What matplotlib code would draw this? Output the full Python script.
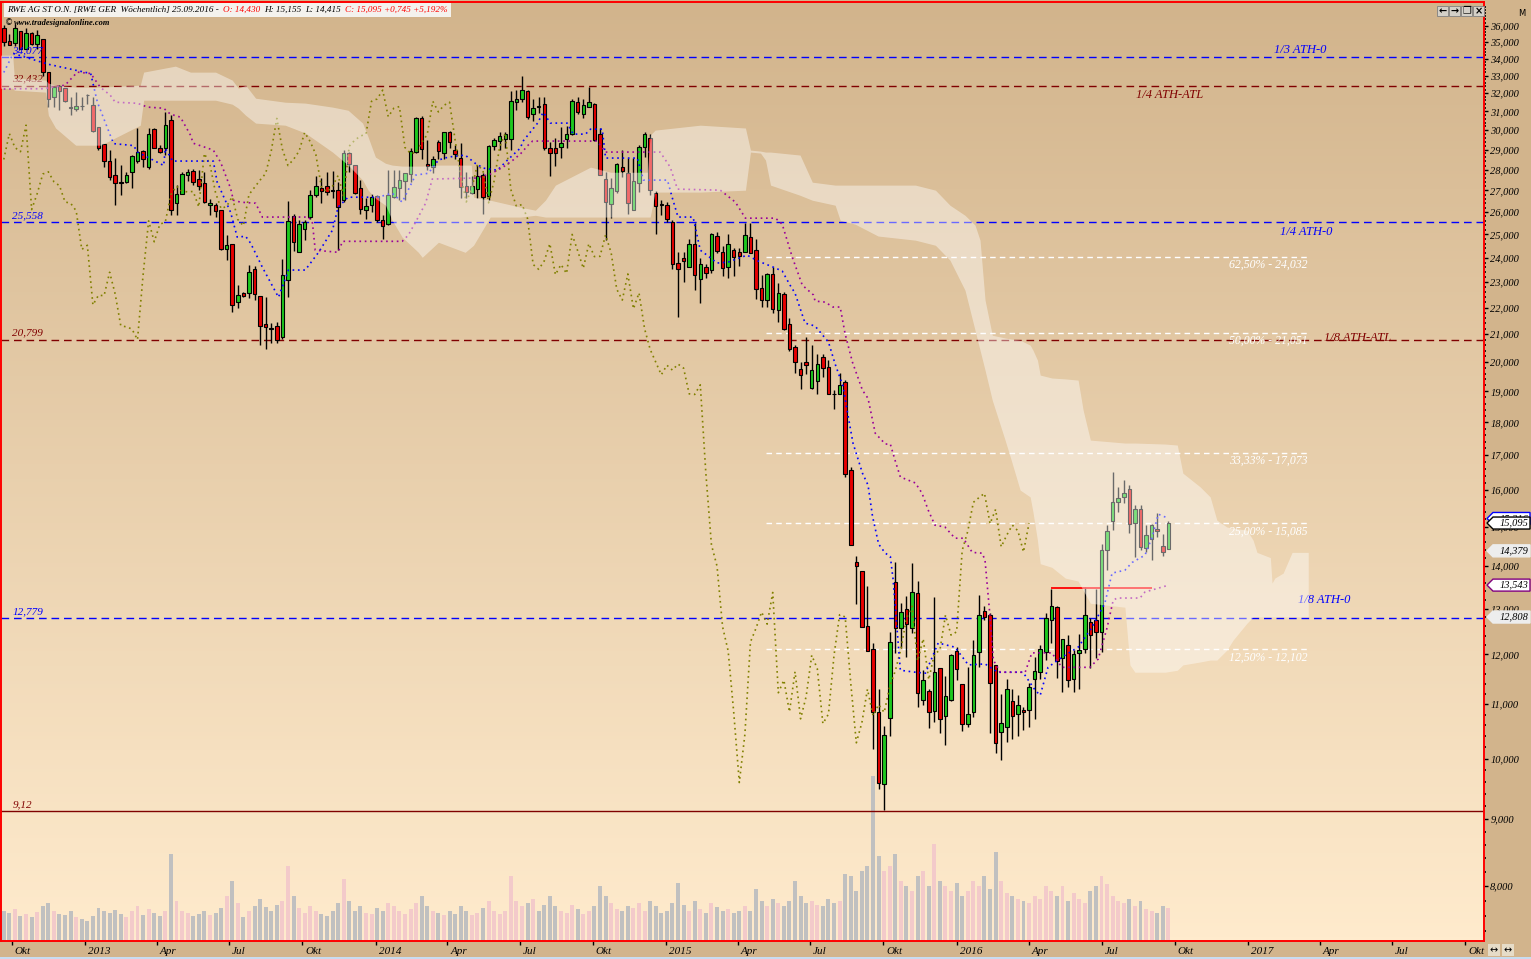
import numpy as np
import pandas as pd
import matplotlib
matplotlib.use("Agg")
import matplotlib.pyplot as plt
import matplotlib.dates as mdates
import matplotlib.ticker as mticker
import matplotlib.transforms as mtransforms
from matplotlib.colors import LinearSegmentedColormap
from matplotlib.patches import Polygon, Rectangle
from matplotlib.offsetbox import TextArea, HPacker, AnchoredOffsetbox

# ---- weekly candles, RWE AG St (Xetra), last week 25.09.2016 ----
opens = [35.88, 35.04, 34.96, 35.67, 34.6, 35.53, 34.9, 35.17, 33.18, 31.8,
         32.4, 32.3, 31.25, 31.15, 31.3, 31.9, 31.37, 30.14, 29.26, 28.44,
         27.73, 27.4, 27.41, 27.9, 28.44, 28.92, 28.13, 30.05, 29.1, 29.1,
         30.51, 26.41, 26.85, 27.73, 27.92, 27.52, 27.33, 26.3, 26.31, 26.11,
         24.35, 24.6, 22.2, 22.55, 22.55, 23.52, 22.45, 21.37, 21.23, 21.31,
         20.9, 23.1, 25.82, 24.25, 25.22, 25.78, 26.76, 27.1, 27.2, 27.0,
         27.01, 26.54, 28.83, 28.22, 27.09, 26.08, 26.3, 26.73, 25.66, 25.45,
         26.7, 27.09, 27.45, 27.78, 28.85, 30.62, 28.25, 28.13, 29.38, 28.8,
         29.91, 29.0, 28.55, 27.2, 26.9, 27.06, 27.76, 26.73, 29.2, 29.45,
         29.56, 29.52, 31.5, 31.65, 32.11, 30.84, 31.3, 31.42, 29.06, 29.06,
         29.14, 29.53, 29.78, 31.5, 30.88, 31.22, 31.39, 29.78, 27.52, 26.35,
         26.96, 28.13, 27.81, 26.11, 27.33, 29.14, 29.6, 26.9, 26.36, 26.31,
         25.56, 23.8, 23.97, 23.63, 24.6, 23.11, 23.63, 23.49, 24.93, 24.23,
         23.61, 24.31, 24.26, 24.26, 24.87, 24.31, 22.75, 22.3, 23.33, 21.92,
         22.52, 21.38, 20.52, 19.75, 20.0, 19.12, 19.36, 20.17, 19.83, 18.93,
         18.92, 19.32, 16.55, 14.1, 13.88, 12.61, 12.12, 10.84, 9.56, 10.74,
         13.61, 12.56, 13.0, 12.56, 13.35, 11.08, 11.25, 10.87, 11.72, 10.77,
         11.07, 12.07, 11.39, 10.63, 10.85, 12.04, 12.94, 12.85, 11.78, 10.48,
         10.57, 11.05, 10.82, 10.88, 10.89, 11.49, 11.64, 12.05, 12.74, 13.04,
         11.92, 12.2, 11.5, 12.02, 12.11, 12.69, 12.75, 12.47, 14.41, 15.14,
         15.66, 15.8, 16.01, 15.1, 15.48, 14.46, 14.67, 14.95, 14.5, 14.43]
highs = [36.05, 35.5, 36.1, 35.7, 35.85, 35.63, 35.73, 35.2, 33.2, 32.42,
         32.45, 32.3, 31.8, 32.04, 31.8, 31.95, 31.8, 30.14, 29.26, 28.97,
         28.55, 28.22, 27.9, 28.72, 30.09, 28.95, 30.09, 30.1, 29.22, 30.97,
         30.79, 27.25, 27.89, 28.05, 28.02, 27.97, 27.89, 26.59, 26.42, 26.11,
         24.97, 24.6, 22.88, 22.62, 23.7, 23.67, 22.45, 22.4, 21.43, 21.46,
         23.94, 26.49, 25.9, 25.63, 25.63, 27.01, 27.68, 27.57, 27.89, 27.94,
         27.41, 29.0, 28.88, 28.22, 27.49, 26.62, 26.85, 26.77, 25.85, 28.0,
         28.0, 28.0, 27.85, 29.06, 30.71, 30.74, 29.48, 28.67, 29.48, 29.91,
         29.96, 29.22, 29.31, 27.89, 27.68, 28.22, 27.81, 29.22, 29.6, 29.91,
         29.88, 32.11, 32.17, 33.0, 32.17, 31.65, 31.76, 31.76, 29.4, 29.57,
         30.17, 30.21, 31.65, 31.76, 31.7, 32.36, 31.45, 30.09, 27.89, 27.57,
         28.31, 28.97, 28.55, 28.55, 29.22, 29.91, 29.79, 26.95, 26.57, 26.46,
         25.63, 24.25, 24.25, 24.82, 25.52, 23.97, 23.72, 25.08, 25.12, 24.51,
         25.0, 24.4, 24.4, 25.51, 25.52, 24.79, 23.28, 23.37, 23.61, 22.96,
         22.6, 21.61, 20.62, 20.0, 20.88, 20.6, 20.3, 20.27, 20.07, 19.05,
         19.63, 19.39, 16.65, 14.25, 13.88, 13.53, 12.24, 11.29, 10.58, 12.48,
         14.1, 13.12, 13.28, 14.07, 13.64, 11.68, 11.3, 13.27, 11.72, 11.55,
         12.0, 12.16, 11.39, 11.74, 12.3, 13.32, 13.05, 12.89, 11.78, 11.19,
         11.49, 11.3, 11.17, 10.94, 11.42, 11.95, 12.2, 12.89, 13.46, 13.06,
         12.33, 12.41, 12.09, 12.43, 13.5, 12.78, 13.46, 14.56, 15.04, 16.51,
         16.07, 16.27, 16.13, 15.58, 15.58, 15.04, 15.08, 15.36, 14.81, 15.155]
lows = [34.76, 34.8, 34.76, 34.6, 34.6, 34.8, 34.6, 33.0, 31.24, 31.24,
        31.06, 31.5, 30.8, 31.02, 31.06, 31.4, 29.9, 28.97, 28.13, 27.49,
        26.31, 26.77, 27.35, 27.09, 28.31, 28.13, 28.05, 29.06, 28.8, 28.72,
        25.85, 25.85, 26.82, 27.45, 27.25, 27.01, 26.39, 25.85, 25.78, 24.32,
        23.9, 21.84, 21.97, 22.42, 22.36, 22.29, 20.6, 20.48, 20.66, 20.66,
        20.84, 22.42, 24.29, 24.25, 24.75, 25.7, 26.7, 26.42, 26.77, 26.62,
        24.32, 26.46, 27.89, 26.85, 25.93, 25.7, 26.0, 25.56, 24.82, 25.41,
        26.62, 26.54, 26.57, 27.41, 28.8, 28.5, 27.97, 27.81, 28.5, 28.5,
        29.06, 28.5, 26.62, 26.62, 26.82, 26.62, 25.93, 26.54, 28.97, 28.97,
        29.06, 28.97, 31.1, 31.52, 30.58, 30.5, 30.91, 28.97, 27.68, 28.18,
        28.55, 29.09, 29.77, 30.88, 30.62, 31.22, 29.45, 27.73, 24.75, 25.73,
        26.9, 27.62, 25.93, 26.08, 26.93, 28.64, 26.77, 25.04, 25.85, 25.56,
        23.52, 21.64, 23.01, 23.63, 22.68, 22.18, 23.17, 23.35, 24.18, 23.24,
        23.15, 23.23, 23.64, 24.26, 24.18, 22.34, 22.03, 22.03, 21.8, 21.46,
        21.17, 20.38, 19.63, 19.09, 19.59, 19.09, 18.92, 19.49, 18.9, 18.43,
        18.9, 16.37, 14.53, 13.1, 12.59, 12.07, 10.17, 9.48, 9.14, 10.41,
        12.02, 12.13, 11.95, 12.45, 10.94, 10.98, 10.55, 10.66, 10.46, 10.24,
        11.06, 11.47, 10.5, 10.57, 10.75, 11.74, 12.74, 10.46, 10.1, 9.98,
        10.3, 10.34, 10.4, 10.52, 10.57, 10.72, 11.49, 11.88, 12.24, 11.52,
        11.24, 11.34, 11.24, 11.29, 12.03, 11.72, 11.93, 12.05, 13.9, 14.91,
        15.4, 15.62, 14.84, 14.22, 14.39, 14.35, 14.16, 14.73, 14.24, 14.415]
closes = [35.0, 34.84, 35.88, 34.6, 35.53, 34.9, 35.42, 33.18, 31.7, 32.36,
          32.1, 31.55, 31.2, 31.3, 31.28, 31.88, 29.95, 29.06, 28.44, 27.65,
          27.36, 27.35, 27.73, 28.67, 28.89, 28.5, 29.82, 29.1, 28.89, 30.26,
          26.11, 26.85, 27.78, 27.89, 27.41, 27.22, 26.46, 26.4, 26.05, 24.35,
          24.53, 22.1, 22.48, 22.46, 23.4, 22.52, 21.31, 21.27, 21.19, 20.8,
          23.28, 25.6, 24.68, 25.44, 25.56, 26.8, 27.2, 26.96, 26.93, 26.95,
          26.23, 28.8, 28.25, 26.9, 26.15, 26.26, 26.7, 25.66, 25.38, 26.8,
          27.14, 27.49, 27.81, 28.92, 30.62, 29.02, 28.2, 28.5, 28.92, 29.88,
          29.4, 28.75, 27.17, 26.93, 27.2, 27.71, 26.7, 29.17, 29.48, 29.69,
          29.79, 31.55, 31.68, 32.17, 30.71, 31.17, 31.26, 29.1, 28.8, 28.84,
          29.35, 29.78, 31.55, 30.97, 31.33, 31.5, 29.48, 27.76, 26.46, 27.09,
          28.25, 27.94, 26.42, 27.45, 29.14, 29.82, 27.04, 26.26, 26.34, 25.7,
          23.72, 23.52, 23.87, 24.6, 23.3, 23.72, 23.35, 25.0, 24.29, 23.56,
          24.6, 24.05, 24.06, 24.98, 24.21, 22.72, 22.29, 23.33, 21.95, 22.57,
          21.2, 20.45, 20.0, 19.56, 19.89, 19.72, 19.93, 19.79, 18.92, 18.9,
          19.22, 16.46, 14.53, 14.0, 12.59, 12.07, 10.84, 9.59, 10.43, 12.26,
          12.56, 12.92, 12.65, 13.37, 11.22, 11.47, 10.85, 11.64, 10.72, 11.15,
          11.98, 11.7, 10.63, 10.81, 11.98, 12.86, 12.81, 11.41, 10.28, 10.65,
          11.29, 10.78, 10.99, 10.84, 11.34, 11.66, 12.11, 12.78, 13.05, 11.86,
          12.33, 11.48, 12.0, 12.09, 12.85, 12.41, 12.48, 14.39, 14.88, 15.65,
          15.78, 15.9, 15.08, 15.46, 14.48, 14.78, 15.04, 14.89, 14.35, 15.095]
# weekly volume, million shares (no scale shown on the chart)
volumes = [30, 28, 32, 25, 27, 24, 29, 35, 38, 30,
           27, 26, 30, 24, 22, 20, 25, 33, 30, 28,
           31, 27, 24, 30, 35, 26, 32, 28, 25, 30,
           87, 40, 30, 28, 25, 27, 30, 26, 28, 33,
           45, 60, 38, 24, 30, 35, 42, 34, 30, 36,
           40, 75, 45, 33, 28, 35, 30, 27, 25, 30,
           38, 62, 40, 30, 35, 28, 27, 33, 30, 38,
           35, 30, 27, 32, 38, 45, 35, 30, 28, 26,
           30, 27, 35, 30, 26, 28, 33, 40, 30, 27,
           30, 65, 40, 35, 38, 42, 30, 36, 45, 35,
           30, 28, 36, 32, 27, 30, 35, 55, 45, 38,
           32, 30, 35, 33, 38, 30, 40, 35, 28, 30,
           38, 58, 36, 30, 40, 32, 28, 38, 34, 30,
           32, 28, 30, 35, 30, 52, 40, 35, 42, 38,
           35, 40, 60, 45, 38, 40, 36, 35, 42, 38,
           40, 67, 65, 50, 70, 75, 165, 85, 70, 75,
           87, 60, 55, 50, 65, 70, 55, 97, 60, 55,
           50, 58, 45, 50, 60, 55, 65, 52, 89, 60,
           48, 45, 42, 40, 38, 45, 42, 55, 50, 45,
           55, 40, 48, 42, 38, 50, 55, 65, 57, 45,
           40, 38, 42, 35, 40, 32, 30, 28, 35, 33]
dates = pd.date_range(end="2016-09-23", periods=len(closes), freq="7D")

# ---- Ichimoku lines (week offset from first candle, price) ----
tenkan_wk = [0, 1.7, 8, 15.6, 16.8, 19.7, 23.3, 24, 28.7, 29, 30.3, 37.6, 38.3, 40.7, 41.9,
             43.4, 44.3, 46.4, 49.3, 51.1, 54.1, 56.5, 59, 60, 61.8, 67.2, 69.7, 71.5, 73.9,
             76.2, 78, 79.8, 82.8, 84.6, 86.1, 88.6, 90.4, 92.7, 93.2, 95.8, 96.8, 98.1,
             101.1, 102.2, 104.4, 105.3, 107.4, 108, 113.7, 114.8, 119.1, 120, 121, 123.7,
             125, 126.2, 128, 130, 133.4, 135.4, 138.1, 139.7, 141.1, 142, 143.8, 145.6,
             148, 149.2, 150.6, 151.5, 152.4, 154.1, 155.1, 155.9, 157, 158.2, 159.1, 159.6,
             160.9, 163.6, 165.4, 167.7, 170.7, 173.1, 176.1, 178.4, 182.9, 185.1, 186,
             187.4, 189.9, 192.8, 195.3, 197.6, 198.9, 201.2, 202.5, 204.8, 206.1, 207.2, 209]
tenkan = [33.18, 34.3, 33.66, 33.12, 31.5, 29.3, 29.2, 28.87, 28.2, 29.06, 28.42, 28.42,
          27.39, 25.99, 24.88, 24.92, 24.62, 23.61, 22.4, 23.49, 23.49, 24.23, 25.19, 26.22,
          26.68, 26.68, 26.87, 26.45, 27.73, 27.82, 28.47, 28.62, 28.72, 28.31, 28.07, 27.97,
          28.47, 29.07, 29.43, 30.37, 30.95, 30.37, 30.37, 29.79, 29.79, 30.05, 30.05, 28.57,
          28.57, 27.49, 27.49, 26.63, 25.77, 25.77, 24.32, 24.11, 23.78, 23.82, 24.11, 23.86,
          23.61, 23.45, 22.88, 22.56, 21.41, 21.3, 20.71, 19.93, 19.18, 18.23, 17.36, 16.47,
          16.13, 15.28, 14.55, 14.32, 14.24, 13.68, 11.67, 11.63, 11.61, 12.24, 12.15, 11.78,
          11.8, 11.63, 11.63, 11.27, 11.17, 11.73, 11.94, 12.15, 12.58, 13.12, 13.83, 13.9,
          14.09, 14.27, 14.73, 15.33, 15.22]
kijun_wk = [0, 7.1, 11, 13.2, 15.6, 17.3, 19.1, 20, 24, 25.8, 28.7, 29.9, 31.7, 33.5, 34,
            37.6, 38.9, 40.7, 41.2, 42.5, 45.2, 46.4, 54.7, 55.4, 55.9, 60, 60.8, 71.5, 72.6,
            73.9, 75.7, 76.9, 84.6, 87.3, 89.6, 91.4, 92.7, 94.1, 94.9, 106.5, 108, 117.8,
            119.6, 120.9, 128.6, 131.3, 133.1, 138.5, 139.7, 141.5, 143.3, 145.3, 145.6,
            147.4, 148.8, 150.1, 151, 152.3, 154.1, 155.1, 156.4, 158.2, 159.1, 160, 160.9,
            163.6, 164.8, 165.9, 167.1, 168.9, 170.7, 172.2, 173.8, 175.6, 176.1, 177, 177.6,
            178.8, 183.3, 184.5, 188.1, 189.2, 189.9, 194.9, 196.4, 198, 199.1, 199.8, 203.9,
            204.8, 209]
kijun = [32.25, 32.25, 32.45, 33.2, 33.12, 32.34, 31.89, 31.5, 31.44, 31.23, 31.17, 30.85,
         30.69, 29.74, 29.32, 28.97, 28.37, 27.1, 26.54, 26.45, 26.4, 25.77, 25.77, 25.5,
         24.32, 24.23, 24.7, 24.7, 24.97, 25.54, 26.4, 27.54, 27.59, 27.78, 28.12, 28.47,
         28.77, 29.22, 29.43, 29.43, 28.87, 28.87, 28.12, 27.06, 27.01, 26.45, 25.72, 25.72,
         25.45, 24.03, 22.88, 22.49, 22.25, 22.21, 22.02, 22.02, 21.0, 20.0, 19.04, 18.77,
         17.66, 17.33, 17.33, 16.82, 16.36, 16.19, 15.9, 15.44, 15.04, 14.99, 14.7, 14.7,
         14.34, 14.32, 14.14, 12.81, 11.88, 11.63, 11.63, 12.03, 12.03, 11.84, 11.73, 11.73,
         11.9, 12.57, 13.19, 13.24, 13.24, 13.38, 13.54]
# cloud (Senkou span band): week offset, upper edge, lower edge
cloud_wk = [-0.6, 1.6, 1.9, 7.5, 8.0, 9.3, 12.9, 17.4, 24.5, 25.1, 30.8, 33.5, 38.0, 41.0,
            42.1, 43.4, 45.2, 50.5, 54.1, 59.0, 61.8, 64.4, 65.4, 66.7, 68.5, 69.7, 71.5,
            74.4, 75.1, 78.0, 82.8, 83.9, 84.3, 87.3, 92.7, 95.4, 97.2, 99.0, 105.3, 108.9,
            115.5, 116.0, 116.9, 125.0, 133.1, 134.0, 135.8, 136.7, 137.6, 142.9, 145.1,
            149.2, 150.1, 152.8, 156.9, 163.6, 167.2, 169.8, 172.5, 174.3, 175.2, 176.1,
            177.4, 179.7, 180.8, 182.4, 184.2, 184.7, 185.5, 186.0, 188.1, 190.5, 192.8,
            193.7, 195.0, 201.2, 202.1, 203.0, 208.4, 210.6, 211.6, 214.7, 216.5, 217.7,
            219.5, 220.6, 223.1, 224.2, 224.9, 227.3, 227.6, 228.1, 229.6, 231.2, 234.1]
cloud_top = [34.2, 34.2, 32.85, 32.74, 32.57, 32.45, 32.34, 32.34, 32.45, 33.2, 33.55, 33.2,
             33.2, 32.74, 32.28, 32.45, 31.72, 31.5, 31.45, 31.23, 31.06, 30.37, 29.63, 28.62,
             28.31, 28.22, 28.17, 28.17, 28.17, 28.22, 28.22, 28.22, 26.68, 26.54, 26.22,
             26.08, 26.54, 27.25, 28.12, 27.87, 27.87, 29.74, 30.0, 30.26, 30.11, 28.97, 28.92,
             28.87, 28.87, 28.72, 27.39, 27.25, 27.25, 27.25, 27.25, 27.25, 27.01, 26.31,
             25.85, 25.41, 24.75, 22.29, 20.96, 20.86, 20.82, 20.78, 20.6, 20.42, 20.07, 19.55,
             19.45, 19.42, 19.38, 18.39, 17.45, 17.36, 17.36, 17.36, 17.33, 17.3, 16.47, 16.08,
             15.8, 15.17, 14.99, 14.96, 14.91, 14.65, 14.34, 14.21, 13.59, 13.71, 13.83, 14.34,
             14.34]
cloud_bot = [32.28, 32.28, 32.17, 32.06, 30.79, 30.11, 29.22, 29.22, 30.26, 31.61, 31.61,
             31.61, 31.61, 31.39, 31.17, 30.79, 30.37, 30.26, 29.85, 28.87, 28.22, 27.49, 27.01,
             26.63, 26.31, 25.63, 24.88, 24.23, 24.02, 24.66, 24.23, 24.45, 24.53, 25.77, 25.77,
             25.85, 25.77, 25.77, 25.77, 25.77, 25.77, 25.77, 26.92, 26.92, 27.01, 28.87, 28.82,
             28.47, 27.25, 26.77, 26.54, 26.31, 25.63, 25.45, 24.93, 24.75, 24.53, 23.9, 22.68,
             21.15, 20.42, 19.72, 18.71, 17.45, 16.85, 15.99, 15.8, 15.39, 14.65, 14.06, 13.97,
             13.71, 13.64, 13.42, 13.12, 13.03, 11.78, 11.63, 11.63, 11.67, 11.78, 11.84, 11.88,
             11.88, 12.09, 12.3, 12.67, 12.81, 12.81, 12.81, 12.81, 12.81, 12.81, 12.81, 12.81]
CHIKOU_SHIFT = 25

# ---- horizontal levels ----
level_vals = [34.077, 32.432, 25.558, 20.799, 12.779]
level_names = ["1/3 ATH-0", "1/4 ATH-ATL", "1/4 ATH-0", "1/8 ATH-ATL", "1/8 ATH-0"]
level_cols = ["#0000FF", "#800000", "#0000FF", "#800000", "#0000FF"]
atl_val = 9.12
fib_pcts = ["62,50%", "50,00%", "33,33%", "25,00%", "12,50%"]
fib_vals = [24.032, 21.051, 17.073, 15.085, 12.102]
fib_wk = [136.8, 234.1]
resist_val = 13.47
resist_wk = [188, 206.1]
tag_vals = [15.216, 15.095, 14.379, 13.543, 12.808]
tag_edges = ["#0000FF", "#000000", "#EDEDED", "#800080", "#EDEDED"]
tag_faces = ["#FFFFFF", "#FFFFFF", "#EDEDED", "#FFFFFF", "#EDEDED"]

GREEN, RED = "#1EC81E", "#E80000"
SERIF = "Liberation Serif"
W, H = 1531, 959

fig = plt.figure(figsize=(W / 100, H / 100), dpi=100)
fig.patch.set_facecolor("#D2B48C")
rect = [0.5 / W, 18 / H, 1483.5 / W, 939 / H]


def fx(px):
    return px / W


def fy(py):
    return 1 - py / H


bg = fig.add_axes(rect, zorder=0)
grad = np.linspace(0, 1, 256).reshape(-1, 1)
bg.imshow(grad, aspect="auto", extent=[0, 1, 0, 1], origin="upper",
          cmap=LinearSegmentedColormap.from_list("bg", ["#D2B48C", "#FFEBCD"]))
bg.set_xlim(0, 1)
bg.set_ylim(0, 1)
bg.axis("off")

ax = fig.add_axes(rect, zorder=2)
ax.patch.set_alpha(0)
vax = fig.add_axes(rect, zorder=1, sharex=ax)
vax.axis("off")

xs = mdates.date2num(dates)
t0 = xs[0]
ax.set_yscale("log")
ax.set_xlim(t0 - 4.1, xs[-1] + 396.5)
ax.set_ylim(7.27, 37.53)
vax.set_ylim(0, 939)

o = np.array(opens)
c = np.array(closes)
up = c >= o

# volume at the foot of the chart
vax.bar(xs, volumes, width=5.0, color=np.where(up, "#F3CACA", "#C0C0C0"), lw=0)

lo_b = np.minimum(o, c)
hi_b = np.maximum(o, c)
ax.vlines(xs, lows, highs, color="black", lw=1.0, zorder=3)
ax.bar(xs, np.maximum(hi_b - lo_b, 0.01), bottom=lo_b, width=4.4,
       color=np.where(up, GREEN, RED), edgecolor="black", linewidth=0.8, zorder=4)

# levels
dash = (0, (5.5, 3.5))
for v, col in zip(level_vals, level_cols):
    ax.axhline(v, color=col, ls=dash, lw=1.0, zorder=2)
ax.axhline(atl_val, color="#800000", lw=1.0, zorder=2)
ax.hlines(fib_vals, t0 + 7 * fib_wk[0], t0 + 7 * fib_wk[1], colors="white",
          linestyles=(0, (4, 3)), lw=1.0, zorder=2)
ax.hlines(resist_val, t0 + 7 * resist_wk[0], t0 + 7 * resist_wk[1], colors="#FF0000",
          lw=1.3, zorder=3.5)

# ichimoku lines and cloud
dot = (0, (1, 2.2))
ax.plot(xs[:-CHIKOU_SHIFT], c[CHIKOU_SHIFT:], color="#808000", ls=dot, lw=1.2, zorder=5)
ax.plot(t0 + 7 * np.array(tenkan_wk), tenkan, color="#0000FF", ls=dot, lw=1.2, zorder=5)
ax.plot(t0 + 7 * np.array(kijun_wk), kijun, color="#990099", ls=dot, lw=1.2, zorder=5)
ax.fill_between(t0 + 7 * np.array(cloud_wk), cloud_bot, cloud_top, color="white",
                alpha=0.42, lw=0, zorder=7)

# labels on the lines
tkw = dict(fontfamily=SERIF, fontstyle="italic", zorder=6, annotation_clip=False)


def note(s, xpx, val, dy, col, size, ha="left", va="bottom"):
    ax.annotate(s, xy=(xpx / 1483.5, val), xycoords=("axes fraction", "data"),
                xytext=(0, dy), textcoords="offset pixels", color=col, fontsize=size,
                ha=ha, va=va, **tkw)


for v, col in zip(level_vals, level_cols):
    note(f"{v:.3f}".replace(".", ","), 12, v, 2, col, 8)
note("9,12", 12, atl_val, 2, "#800000", 8)
note(level_names[0], 1273, level_vals[0], 1, level_cols[0], 9)
note(level_names[1], 1135, level_vals[1], -3, level_cols[1], 9, va="top")
note(level_names[2], 1280, level_vals[2], -4, level_cols[2], 9, va="top")
note(level_names[3], 1323, level_vals[3], 2, level_cols[3], 9, va="center")
note(level_names[4], 1297, level_vals[4], 12, level_cols[4], 9)
for p, v in zip(fib_pcts, fib_vals):
    note(f"{p} - {v:.3f}".replace(".", ","), 1307, v, -2, "white", 8.5, ha="right", va="top")

# axes styling
for s in ax.spines.values():
    s.set_color("#FF0000")
    s.set_linewidth(1.4)
ax.yaxis.tick_right()
ax.yaxis.set_major_locator(mticker.FixedLocator(np.arange(8, 37)))
ax.yaxis.set_minor_locator(mticker.FixedLocator(np.arange(7.4, 37.4, 0.2)))
ax.yaxis.set_major_formatter(mticker.FuncFormatter(lambda v, p: f"{v:.3f}".replace(".", ",")))
ax.yaxis.set_minor_formatter(mticker.NullFormatter())
ax.tick_params(axis="y", which="major", direction="out", length=3, width=1, color="black",
               labelsize=7.5, pad=1.5)
ax.tick_params(axis="y", which="minor", direction="out", length=1.5, width=1.2, color="black")

qdates = pd.date_range("2012-10-01", "2017-10-01", freq="3MS")
mon = {1: None, 4: "Apr", 7: "Jul", 10: "Okt"}
qlabels = [str(d.year) if d.month == 1 else mon[d.month] for d in qdates]
ax.set_xticks(mdates.date2num(qdates))
ax.set_xticklabels(qlabels)
ax.xaxis.set_minor_locator(mticker.NullLocator())
ax.tick_params(axis="x", direction="out", length=3, width=1, color="black", labelsize=8, pad=1.5)
for lab in list(ax.get_xticklabels()) + list(ax.get_yticklabels()):
    lab.set_fontfamily(SERIF)
    lab.set_fontstyle("italic")
shift = mtransforms.ScaledTranslation(3 / 100, 0, fig.dpi_scale_trans)
for lab in ax.get_xticklabels():
    lab.set_ha("left")
    lab.set_transform(lab.get_transform() + shift)

# header box
parts = [("RWE AG ST O.N. [RWE GER  Wöchentlich] 25.09.2016 -", "black"),
         ("O: 14,430", "#FF0000"), ("H: 15,155", "black"), ("L: 14,415", "black"),
         ("C: 15,095 +0,745 +5,192%", "#FF0000")]
areas = [TextArea(s, textprops=dict(color=cl, fontsize=6.6, fontfamily=SERIF, fontstyle="italic"))
         for s, cl in parts]
head = AnchoredOffsetbox(loc="upper left", child=HPacker(children=areas, sep=3, pad=0),
                         bbox_to_anchor=(fx(4), fy(3)), bbox_transform=fig.transFigure,
                         frameon=True, pad=0.2, borderpad=0)
head.patch.set_facecolor("#F4F2EE")
head.patch.set_edgecolor("none")
head.set_zorder(10)
ax.add_artist(head)
ax.text(fx(14), fy(23), "www.tradesignalonline.com", transform=fig.transFigure, fontsize=6,
        fontfamily=SERIF, fontstyle="italic", fontweight="bold", va="center", zorder=10)
ax.text(fx(5), fy(23), "©", transform=fig.transFigure, fontsize=6, va="center", zorder=10)

# value tags on the price scale
fig.canvas.draw()
for k, (v, ec, fc) in enumerate(zip(tag_vals, tag_edges, tag_faces)):
    ypx = H - ax.transData.transform((xs[-1], v))[1]
    pts = [(1487, ypx), (1493, ypx - 6), (1530, ypx - 6), (1530, ypx + 6), (1493, ypx + 6)]
    fig.patches.append(Polygon([(fx(a), fy(b)) for a, b in pts], closed=True, facecolor=fc,
                               edgecolor=ec, lw=1, transform=fig.transFigure, figure=fig,
                               zorder=5 + 2 * k))
    fig.text(fx(1528), fy(ypx), f"{v:.3f}".replace(".", ","), ha="right", va="center",
             fontsize=7.5, fontfamily=SERIF, fontstyle="italic", zorder=6 + 2 * k)

# window buttons
for i, g in enumerate(["←", "→", "❐", "×"]):
    x0 = 1437 + 12 * i
    fig.patches.append(Rectangle((fx(x0), fy(16)), fx(11), 10 / H, facecolor="#D4D0C8",
                                 edgecolor="#808080", lw=0.6, transform=fig.transFigure,
                                 figure=fig, zorder=5))
    fig.text(fx(x0 + 5.5), fy(11), g, ha="center", va="center", fontsize=7, zorder=6,
             fontweight="bold")
for i in range(2):
    x0 = 1488 + 14 * i
    fig.patches.append(Rectangle((fx(x0), fy(956)), fx(12), 12 / H, facecolor="#E6DCC8",
                                 edgecolor="none", transform=fig.transFigure, figure=fig))
    fig.text(fx(x0 + 6), fy(950), "↔", ha="center", va="center", fontsize=7)
fig.text(fx(1522), fy(13), "M", ha="center", va="center", fontsize=6)
fig.patches.append(Rectangle((0, 0), 1, 2 / H, facecolor="#C8DCF0", edgecolor="none",
                             transform=fig.transFigure, figure=fig))

fig.savefig("out.png", dpi=100, facecolor=fig.get_facecolor())
